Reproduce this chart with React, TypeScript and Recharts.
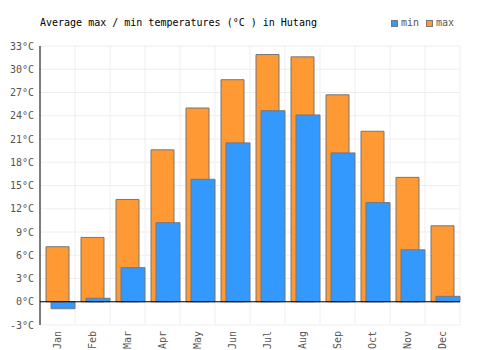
import { BarChart, Bar, XAxis, YAxis, CartesianGrid, ReferenceLine, Rectangle } from 'recharts';

const months = ['Jan', 'Feb', 'Mar', 'Apr', 'May', 'Jun', 'Jul', 'Aug', 'Sep', 'Oct', 'Nov', 'Dec'];
const minTemps = [-0.9, 0.45, 4.4, 10.2, 15.8, 20.5, 24.65, 24.1, 19.2, 12.8, 6.7, 0.7];
const maxTemps = [7.1, 8.3, 13.2, 19.6, 25.0, 28.65, 31.9, 31.6, 26.7, 22.0, 16.05, 9.8];
const yTicks = [-3, 0, 3, 6, 9, 12, 15, 18, 21, 24, 27, 30, 33];

const data = months.map((m, i) => ({ month: m, min: minTemps[i], max: maxTemps[i] }));

const FONT = '"DejaVu Sans Mono", monospace';
const BLUE = '#3399ff';
const ORANGE = '#ff9933';
const EDGE = '#777777';

// bars sit a little right of the band centre in the original
const shifted = (p: any) => <Rectangle {...p} x={p.x + 3} />;

const MonthTick = ({ x, y, payload }: any) => (
	<text
		x={x}
		y={y}
		transform={`rotate(-90 ${x} ${y})`}
		textAnchor="end"
		dy="0.35em"
		fontSize={10}
		fontFamily={FONT}
		fill="#555"
	>
		{payload.value}
	</text>
);

export default function App() {
	return (
		<div style={{ position: 'relative', width: 500, height: 350, fontFamily: FONT }}>
			<style>{'body{margin:0}'}</style>
			<div style={{ position: 'absolute', left: 40, top: 17, fontSize: 10, lineHeight: '12px', color: '#000' }}>
				Average max / min temperatures (°C ) in Hutang
			</div>
			<div style={{ position: 'absolute', left: 391, top: 17, fontSize: 10, lineHeight: '12px', color: '#555', display: 'flex', alignItems: 'center' }}>
				<span style={{ width: 5, height: 5, background: BLUE, border: `1px solid ${EDGE}`, marginRight: 3 }} />
				<span style={{ marginRight: 7 }}>min</span>
				<span style={{ width: 5, height: 5, background: ORANGE, border: `1px solid ${EDGE}`, marginRight: 3 }} />
				<span>max</span>
			</div>
			<BarChart
				width={500}
				height={350}
				data={data}
				margin={{ top: 46, right: 40, left: 0, bottom: 0 }}
				barGap={-18}
			>
				<CartesianGrid
					stroke="#eeeeee"
					verticalCoordinatesGenerator={({ offset }: any) =>
						Array.from({ length: months.length + 1 }, (_, i) => offset.left + (i * offset.width) / months.length)
					}
				/>
				<XAxis
					dataKey="month"
					height={25}
					axisLine={false}
					tickLine={false}
					tickSize={0}
					tickMargin={6}
					interval={0}
					tick={<MonthTick />}
				/>
				<YAxis
					width={40}
					domain={[-3, 33]}
					ticks={yTicks}
					interval={0}
					axisLine={{ stroke: '#000' }}
					tickLine={false}
					tickSize={0}
					tickMargin={6}
					tickFormatter={(v: number) => `${v}°C`}
					tick={{ fontSize: 10, fontFamily: FONT, fill: '#555' }}
				/>
				<Bar dataKey="max" fill={ORANGE} stroke={EDGE} barSize={23} shape={shifted} isAnimationActive={false} />
				<Bar dataKey="min" fill={BLUE} stroke={EDGE} barSize={24} shape={shifted} isAnimationActive={false} />
				<ReferenceLine y={0} stroke="#000" />
			</BarChart>
		</div>
	);
}
